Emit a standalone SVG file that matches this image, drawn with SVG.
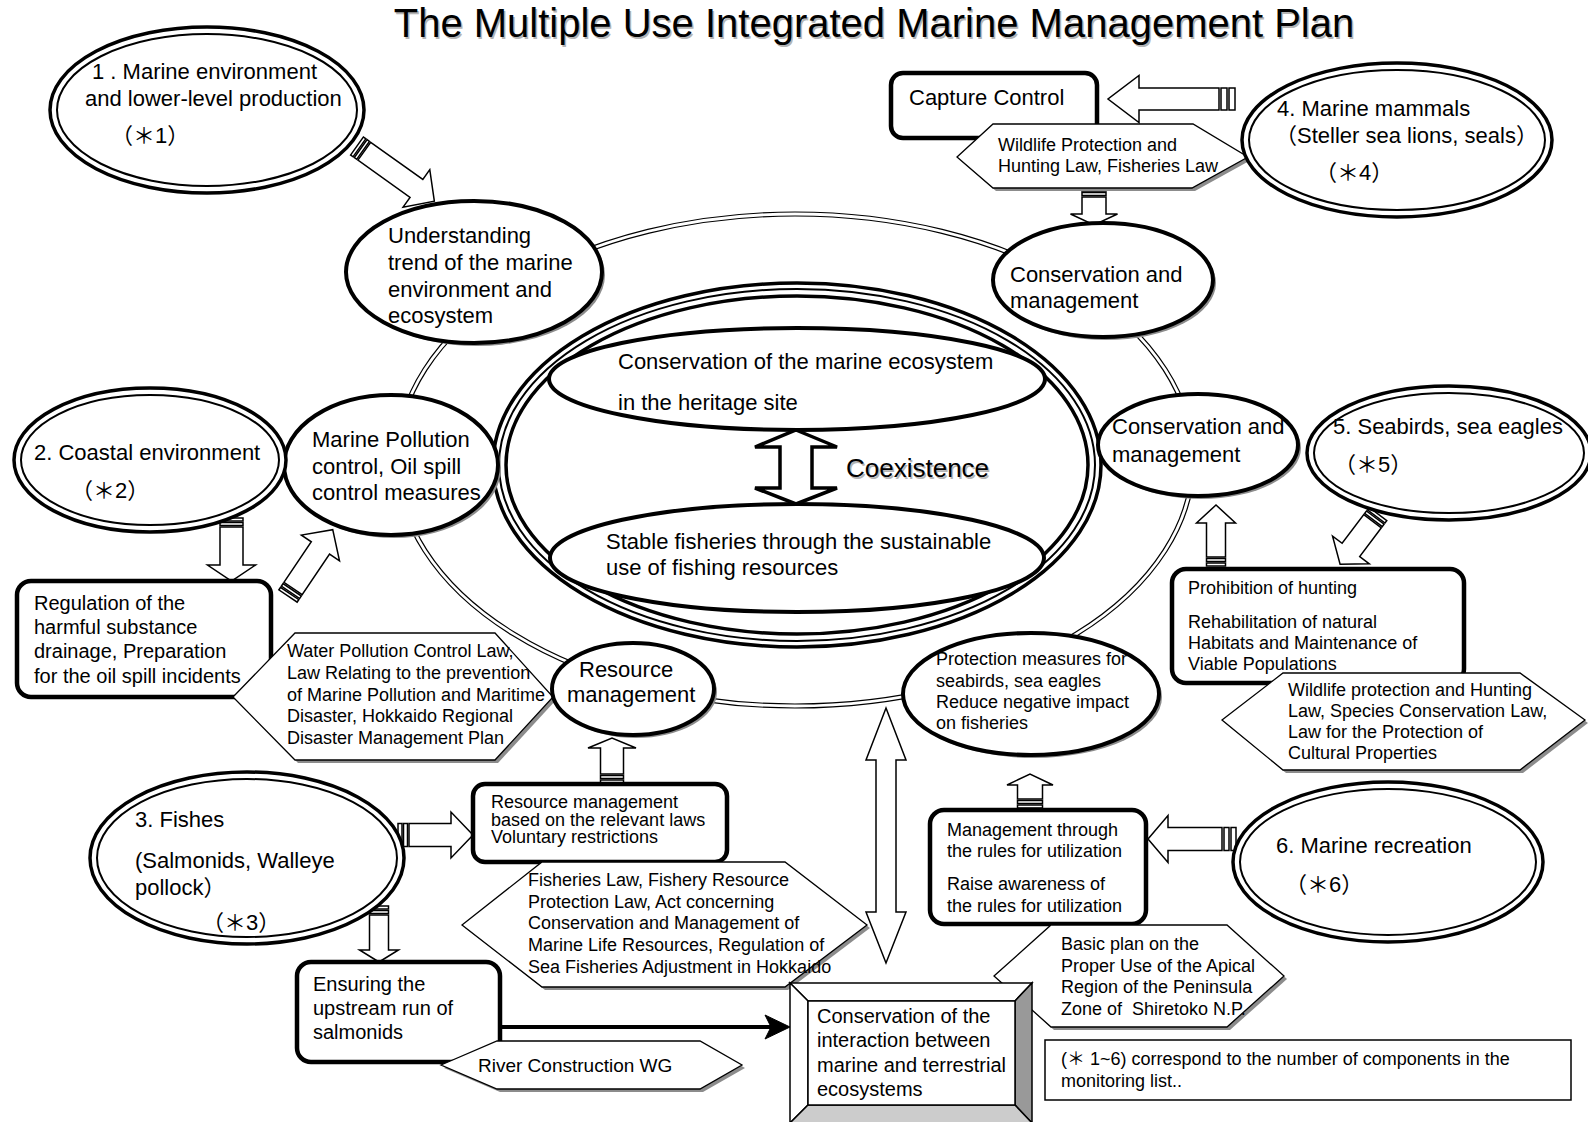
<svg xmlns="http://www.w3.org/2000/svg" width="1588" height="1122" viewBox="0 0 1588 1122">
<defs>
<style>
text{font-family:"Liberation Sans","Noto Sans CJK JP",sans-serif;fill:#000}
.f40{font-size:40px}.f26{font-size:26px}.f22{font-size:22px}.f20{font-size:20px}.f19{font-size:19px}.f18{font-size:18px}
.sh{fill:#8c8c8c;stroke:none}
.tsh{fill:#b4b4b4}
.el{fill:#fff;stroke:#000;stroke-width:4}
.d1{fill:#fff;stroke:#000;stroke-width:3.5}
.d2{fill:none;stroke:#000;stroke-width:2}
.box{fill:#fff;stroke:#000;stroke-width:4.5}
.hex{fill:#fff;stroke:#000;stroke-width:1.3}
.blk{fill:#fff;stroke:#000;stroke-width:1.5}
.thin{fill:none;stroke:#000;stroke-width:1.2}
.ring{fill:none;stroke:#000}
</style>
</defs>
<rect x="0" y="0" width="1588" height="1122" fill="#fff"/>

<g id="title">
<text class="f40 tsh" x="875.5" y="38.5" text-anchor="middle">The Multiple Use Integrated Marine Management Plan</text>
<text class="f40" x="874" y="37" text-anchor="middle">The Multiple Use Integrated Marine Management Plan</text>
</g>

<g id="outer-ring">
<ellipse class="thin" cx="795" cy="460" rx="400" ry="248"/>
<ellipse class="thin" cx="795" cy="460" rx="396" ry="244"/>
</g>

<g id="core">
<ellipse class="ring" cx="797" cy="465" rx="304" ry="182" fill="#fff" stroke-width="3.5"/>
<ellipse class="ring" cx="797" cy="465" rx="298" ry="176" stroke-width="2"/>
<ellipse class="ring" cx="797" cy="465" rx="291" ry="169" stroke-width="3.5"/>
<ellipse class="el" cx="797" cy="379" rx="248" ry="51"/>
<ellipse class="el" cx="797" cy="558" rx="247" ry="54"/>
<text class="f22" x="618" y="369">Conservation of the marine ecosystem</text>
<text class="f22" x="618" y="410">in the heritage site</text>
<text class="f22" x="606" y="549">Stable fisheries through the sustainable</text>
<text class="f22" x="606" y="575">use of fishing resources</text>
<path d="M796,430 L837,447 H812 V488 H837 L796,504 L755,488 H780 V447 H755 Z" fill="#fff" stroke="#000" stroke-width="3.5" stroke-linejoin="miter"/>
<text class="f26 tsh" x="847.5" y="478.5">Coexistence</text>
<text class="f26" x="846" y="477">Coexistence</text>
</g>

<g id="connectors">
<g class="blk" transform="translate(357,146) rotate(35.5)"><rect x="0" y="-11" width="3" height="22"/><rect x="4.5" y="-11" width="3" height="22"/><path d="M9,-11 H73 V-23 L95,0 L73,23 V11 H9 Z"/></g>
<g class="blk" transform="translate(231.5,518) rotate(90)"><rect x="0" y="-11.5" width="3" height="23"/><rect x="4.5" y="-11.5" width="3" height="23"/><path d="M9,-11.5 H47 V-24 L63,0 L47,24 V11.5 H9 Z"/></g>
<g class="blk" transform="translate(288,596) rotate(-56)"><rect x="0" y="-11" width="3" height="22"/><rect x="4.5" y="-11" width="3" height="22"/><path d="M9,-11 H58 V-23 L80,0 L58,23 V11 H9 Z"/></g>
<g class="blk" transform="translate(1235,99) rotate(180)"><rect x="0" y="-11" width="6" height="22"/><rect x="8" y="-11" width="6" height="22"/><path d="M16,-11 H96 V-23.5 L127,0 L96,23.5 V11 H16 Z"/></g>
<g class="blk" transform="translate(1094,188) rotate(90)"><rect x="0" y="-12" width="3" height="24"/><rect x="4.5" y="-12" width="3" height="24"/><path d="M9,-12 H26 V-23.5 L37,0 L26,23.5 V12 H9 Z"/></g>
<g class="blk" transform="translate(1216,566) rotate(-90)"><rect x="0" y="-9.5" width="3" height="19"/><rect x="4.5" y="-9.5" width="3" height="19"/><path d="M9,-9.5 H43 V-19.5 L61,0 L43,19.5 V9.5 H9 Z"/></g>
<g class="blk" transform="translate(1378,514) rotate(127)"><rect x="0" y="-11" width="3" height="22"/><rect x="4.5" y="-11" width="3" height="22"/><path d="M9,-11 H45 V-23 L63,0 L45,23 V11 H9 Z"/></g>
<g class="blk" transform="translate(398,835)"><rect x="0" y="-11.5" width="4" height="23"/><rect x="5.5" y="-11.5" width="4" height="23"/><path d="M11,-11.5 H53 V-23 L75,0 L53,23 V11.5 H11 Z"/></g>
<g class="blk" transform="translate(379,906) rotate(90)"><rect x="0" y="-9.5" width="3" height="19"/><rect x="4.5" y="-9.5" width="3" height="19"/><path d="M9,-9.5 H44 V-19.5 L56,0 L44,19.5 V9.5 H9 Z"/></g>
<g class="blk" transform="translate(612,783) rotate(-90)"><rect x="0" y="-11.5" width="3" height="23"/><rect x="4.5" y="-11.5" width="3" height="23"/><path d="M9,-11.5 H35 V-24 L45,0 L35,24 V11.5 H9 Z"/></g>
<g class="blk" transform="translate(1030,808) rotate(-90)"><rect x="0" y="-12.5" width="3" height="25"/><rect x="4.5" y="-12.5" width="3" height="25"/><path d="M9,-12.5 H23 V-23 L34,0 L23,23 V12.5 H9 Z"/></g>
<g class="blk" transform="translate(1236,839) rotate(180)"><rect x="0" y="-11.5" width="5" height="23"/><rect x="7" y="-11.5" width="5" height="23"/><path d="M14,-11.5 H68 V-23.5 L88,0 L68,23.5 V11.5 H14 Z"/></g>
<path class="blk" d="M886,708 L906,760 H896 V912 H906 L886,963 L866,912 H876 V760 H866 Z"/>
<line x1="501" y1="1027" x2="772" y2="1027" stroke="#000" stroke-width="4"/>
<path d="M790,1027 L765,1015 L771,1027 L765,1039 Z" fill="#000" stroke="#000" stroke-width="1"/>
</g>

<g id="capture-control">
<rect class="box" x="891" y="73" width="206" height="65" rx="12"/>
<text class="f22" x="909" y="105">Capture Control</text>
</g>
<g id="regulation">
<rect class="box" x="17" y="581" width="254" height="116" rx="14"/>
<text class="f20" x="34" y="610">Regulation of the</text>
<text class="f20" x="34" y="634">harmful substance</text>
<text class="f20" x="34" y="658">drainage, Preparation</text>
<text class="f20" x="34" y="683">for the oil spill incidents</text>
</g>
<g id="resource-box">
<rect class="box" x="473" y="784" width="254" height="78" rx="12"/>
<text class="f18" x="491" y="808">Resource management</text>
<text class="f18" x="491" y="826">based on the relevant laws</text>
<text class="f18" x="491" y="843">Voluntary restrictions</text>
</g>
<g id="ensuring">
<rect class="box" x="297" y="962" width="203" height="100" rx="14"/>
<text class="f20" x="313" y="991">Ensuring the</text>
<text class="f20" x="313" y="1015">upstream run of</text>
<text class="f20" x="313" y="1039">salmonids</text>
</g>
<g id="prohibition">
<rect class="box" x="1172" y="569" width="292" height="114" rx="14"/>
<text class="f18" x="1188" y="594">Prohibition of hunting</text>
<text class="f18" x="1188" y="628">Rehabilitation of natural</text>
<text class="f18" x="1188" y="649">Habitats and Maintenance of</text>
<text class="f18" x="1188" y="670">Viable Populations</text>
</g>
<g id="management-rules">
<rect class="box" x="930" y="810" width="216" height="114" rx="14"/>
<text class="f18" x="947" y="836">Management through</text>
<text class="f18" x="947" y="857">the rules for utilization</text>
<text class="f18" x="947" y="890">Raise awareness of</text>
<text class="f18" x="947" y="912">the rules for utilization</text>
</g>

<g id="law-mammals">
<polygon class="sh" transform="translate(3,3)" points="957,157 993,124 1193,124 1248,157 1192,188 993,188"/>
<polygon class="hex" points="957,157 993,124 1193,124 1248,157 1192,188 993,188"/>
<text class="f18" x="998" y="151">Wildlife Protection and</text>
<text class="f18" x="998" y="172">Hunting Law, Fisheries Law</text>
</g>
<g id="law-pollution">
<polygon class="sh" transform="translate(3,3)" points="233,697 295,633 495,633 553,697 495,760 295,760"/>
<polygon class="hex" points="233,697 295,633 495,633 553,697 495,760 295,760"/>
<text class="f18" x="287" y="657">Water Pollution Control Law,</text>
<text class="f18" x="287" y="679">Law Relating to the prevention</text>
<text class="f18" x="287" y="701">of Marine Pollution and Maritime</text>
<text class="f18" x="287" y="722">Disaster, Hokkaido Regional</text>
<text class="f18" x="287" y="744">Disaster Management Plan</text>
</g>
<g id="law-fisheries">
<polygon class="sh" transform="translate(3,3)" points="462,925 542,862 785,862 867,925 785,987 542,987"/>
<polygon class="hex" points="462,925 542,862 785,862 867,925 785,987 542,987"/>
<text class="f18" x="528" y="886">Fisheries Law, Fishery Resource</text>
<text class="f18" x="528" y="908">Protection Law, Act concerning</text>
<text class="f18" x="528" y="929">Conservation and Management of</text>
<text class="f18" x="528" y="951">Marine Life Resources, Regulation of</text>
<text class="f18" x="528" y="973">Sea Fisheries Adjustment in Hokkaido</text>
</g>
<g id="law-birds">
<polygon class="sh" transform="translate(3,3)" points="1222,720 1283,673 1520,673 1585,720 1520,770 1283,770"/>
<polygon class="hex" points="1222,720 1283,673 1520,673 1585,720 1520,770 1283,770"/>
<text class="f18" x="1288" y="696">Wildlife protection and Hunting</text>
<text class="f18" x="1288" y="717">Law, Species Conservation Law,</text>
<text class="f18" x="1288" y="738">Law for the Protection of</text>
<text class="f18" x="1288" y="759">Cultural Properties</text>
</g>
<g id="basic-plan">
<polygon class="sh" transform="translate(3,3)" points="994,976 1051,925 1227,925 1284,976 1227,1027 1051,1027"/>
<polygon class="hex" points="994,976 1051,925 1227,925 1284,976 1227,1027 1051,1027"/>
<text class="f18" x="1061" y="950">Basic plan on the</text>
<text class="f18" x="1061" y="972">Proper Use of the Apical</text>
<text class="f18" x="1061" y="993">Region of the Peninsula</text>
<text class="f18" x="1061" y="1015">Zone of&#160; Shiretoko N.P.</text>
</g>
<g id="river-wg">
<polygon class="sh" transform="translate(3,3)" points="441,1065 497,1041 700,1041 742,1065 700,1089 497,1089"/>
<polygon class="hex" points="441,1065 497,1041 700,1041 742,1065 700,1089 497,1089"/>
<text class="f19" x="478" y="1072">River Construction WG</text>
</g>

<g id="understanding">
<ellipse class="sh" cx="477" cy="275" rx="128" ry="71"/>
<ellipse class="el" cx="474" cy="272" rx="128" ry="71"/>
<text class="f22" x="388" y="243">Understanding</text>
<text class="f22" x="388" y="270">trend of the marine</text>
<text class="f22" x="388" y="297">environment and</text>
<text class="f22" x="388" y="323">ecosystem</text>
</g>
<g id="conservation-top">
<ellipse class="sh" cx="1106" cy="283" rx="110" ry="57"/>
<ellipse class="el" cx="1103" cy="280" rx="110" ry="57"/>
<text class="f22" x="1010" y="282">Conservation and</text>
<text class="f22" x="1010" y="308">management</text>
</g>
<g id="marine-pollution">
<ellipse class="sh" cx="394" cy="468" rx="107" ry="70"/>
<ellipse class="el" cx="391" cy="465" rx="107" ry="70"/>
<text class="f22" x="312" y="447">Marine Pollution</text>
<text class="f22" x="312" y="474">control, Oil spill</text>
<text class="f22" x="312" y="500">control measures</text>
</g>
<g id="conservation-right">
<ellipse class="sh" cx="1201" cy="448" rx="100" ry="51"/>
<ellipse class="el" cx="1198" cy="445" rx="100" ry="51"/>
<text class="f22" x="1112" y="434">Conservation and</text>
<text class="f22" x="1112" y="462">management</text>
</g>
<g id="resource-management">
<ellipse class="sh" cx="636" cy="692" rx="81" ry="46"/>
<ellipse class="el" cx="633" cy="689" rx="81" ry="46"/>
<text class="f22" x="579" y="677">Resource</text>
<text class="f22" x="567" y="702">management</text>
</g>
<g id="protection-measures">
<ellipse class="sh" cx="1034" cy="697" rx="128" ry="61"/>
<ellipse class="el" cx="1031" cy="694" rx="128" ry="61"/>
<text class="f18" x="936" y="665">Protection measures for</text>
<text class="f18" x="936" y="687">seabirds, sea eagles</text>
<text class="f18" x="936" y="708">Reduce negative impact</text>
<text class="f18" x="936" y="729">on fisheries</text>
</g>

<g id="n1">
<ellipse class="d1" cx="207" cy="110" rx="157" ry="83"/>
<ellipse class="d2" cx="207" cy="110" rx="150" ry="76"/>
<text class="f22" x="92" y="79">1 . Marine environment</text>
<text class="f22" x="85" y="106">and lower-level production</text>
<text class="f22" x="111" y="143">（＊1）</text>
</g>
<g id="n2">
<ellipse class="d1" cx="150" cy="460" rx="136" ry="72"/>
<ellipse class="d2" cx="150" cy="460" rx="129" ry="65"/>
<text class="f22" x="34" y="460">2. Coastal environment</text>
<text class="f22" x="71" y="498">（＊2）</text>
</g>
<g id="n3">
<ellipse class="d1" cx="247" cy="858" rx="157" ry="86"/>
<ellipse class="d2" cx="247" cy="858" rx="150" ry="79"/>
<text class="f22" x="135" y="827">3. Fishes</text>
<text class="f22" x="135" y="868">(Salmonids, Walleye</text>
<text class="f22" x="135" y="895">pollock）</text>
<text class="f22" x="202" y="930">（＊3）</text>
</g>
<g id="n4">
<ellipse class="d1" cx="1397" cy="140" rx="155" ry="77"/>
<ellipse class="d2" cx="1397" cy="140" rx="148" ry="70"/>
<text class="f22" x="1277" y="116">4. Marine mammals</text>
<text class="f22" x="1275" y="143">（Steller sea lions, seals）</text>
<text class="f22" x="1315" y="180">（＊4）</text>
</g>
<g id="n5">
<ellipse class="d1" cx="1449" cy="453" rx="142" ry="67"/>
<ellipse class="d2" cx="1449" cy="453" rx="135" ry="60"/>
<text class="f22" x="1333" y="434">5. Seabirds, sea eagles</text>
<text class="f22" x="1334" y="472">（＊5）</text>
</g>
<g id="n6">
<ellipse class="d1" cx="1388" cy="862" rx="155" ry="80"/>
<ellipse class="d2" cx="1388" cy="862" rx="148" ry="73"/>
<text class="f22" x="1276" y="853">6. Marine recreation</text>
<text class="f22" x="1285" y="892">（＊6）</text>
</g>

<g id="interaction">
<polygon points="790,983 1032,983 1015,1001 808,1001" fill="#fff" stroke="#000" stroke-width="1.5"/>
<polygon points="790,983 808,1001 808,1105 790,1123" fill="#fff" stroke="#000" stroke-width="1.5"/>
<polygon points="1032,983 1032,1123 1015,1105 1015,1001" fill="#999" stroke="#000" stroke-width="1.5"/>
<polygon points="790,1123 808,1105 1015,1105 1032,1123" fill="#ccc" stroke="#000" stroke-width="1.5"/>
<rect x="808" y="1001" width="207" height="104" fill="#fff" stroke="#000" stroke-width="1.5"/>
<text class="f20" x="817" y="1023">Conservation of the</text>
<text class="f20" x="817" y="1047">interaction between</text>
<text class="f20" x="817" y="1072">marine and terrestrial</text>
<text class="f20" x="817" y="1096">ecosystems</text>
</g>

<g id="footnote">
<rect x="1045" y="1040" width="526" height="60" fill="#fff" stroke="#000" stroke-width="1.5"/>
<text class="f18" x="1061" y="1065">(＊ 1~6) correspond to the number of components in the</text>
<text class="f18" x="1061" y="1087">monitoring list..</text>
</g>
</svg>
